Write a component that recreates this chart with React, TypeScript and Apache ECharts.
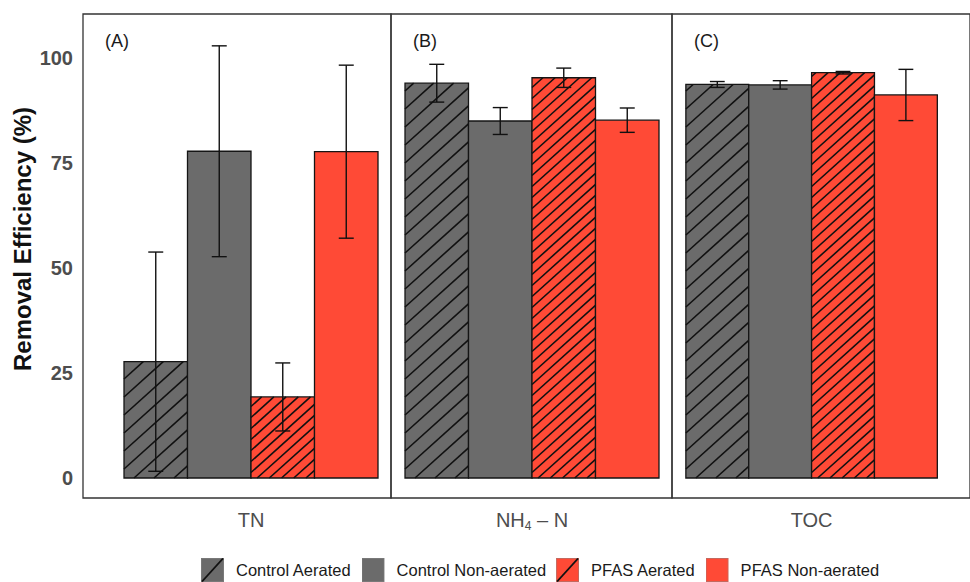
import React, { useEffect, useRef } from 'react';
import * as echarts from 'echarts';

// ---- data ----
const facets = ['TN', 'NH4-N', 'TOC'];
const facetLabels = ['TN', 'NH{sub|4} – N', 'TOC'];
const panelTags = ['(A)', '(B)', '(C)'];
const treatments = ['Control Aerated', 'Control Non-aerated', 'PFAS Aerated', 'PFAS Non-aerated'];
// mean removal efficiency (%) per facet [TN, NH4-N, TOC]
const controlAerated = [27.7, 94.0, 93.7];
const controlNonAerated = [77.8, 85.0, 93.6];
const pfasAerated = [19.3, 95.3, 96.5];
const pfasNonAerated = [77.7, 85.2, 91.2];
// error (±)
const controlAeratedErr = [26.1, 4.5, 0.7];
const controlNonAeratedErr = [25.1, 3.2, 1.0];
const pfasAeratedErr = [8.1, 2.3, 0.3];
const pfasNonAeratedErr = [20.6, 2.9, 6.1];
const yTicks = [0, 25, 50, 75, 100];

const means = [controlAerated, controlNonAerated, pfasAerated, pfasNonAerated];
const errs = [controlAeratedErr, controlNonAeratedErr, pfasAeratedErr, pfasNonAeratedErr];

// ---- styles ----
const GRAY = '#6b6b6b';
const RED = '#ff4a36';
const fills = [GRAY, GRAY, RED, RED];
const hatched = [true, false, true, false];
const hatchSpacing = [18, 0, 11, 0];
const FONT = '"Liberation Sans", Arial, Helvetica, sans-serif';

const panels = [
  { left: 83, width: 308, xMin: -0.1457, xMax: 4.7047 },
  { left: 391, width: 281, xMin: 0.2795, xMax: 4.7047 },
  { left: 672, width: 300, xMin: 0.2795, xMax: 5.0197 },
];

const keyIcon = (fill: string, hatch: boolean) =>
  'image://data:image/svg+xml;utf8,' +
  encodeURIComponent(
    `<svg xmlns="http://www.w3.org/2000/svg" width="23" height="24" viewBox="0 0 23 24">` +
      `<rect x="0" y="0" width="23" height="24" fill="${fill}"/>` +
      `<rect x="0.5" y="0.5" width="22" height="23" fill="none" stroke="#888" stroke-opacity="0.5" stroke-width="1"/>` +
      (hatch ? `<line x1="1" y1="23.5" x2="22" y2="0.5" stroke="#111" stroke-width="1.8"/>` : '') +
      `</svg>`
  );

function makeRender(t: number) {
  return (params: any, api: any) => {
    const xi = api.value(0);
    const v = api.value(1);
    const e = api.value(2);
    const pTop = api.coord([xi - 0.5, v]);
    const pBot = api.coord([xi + 0.5, 0]);
    const x0 = pTop[0];
    const y0 = pTop[1];
    const x1 = pBot[0];
    const y1 = pBot[1];
    const children: any[] = [];
    children.push({
      type: 'rect',
      shape: { x: x0, y: y0, width: x1 - x0, height: y1 - y0 },
      style: { fill: fills[t], stroke: 'none' },
    });
    if (hatched[t]) {
      const k = Math.tan((42 * Math.PI) / 180);
      const s = hatchSpacing[t];
      const anchor = y1 + k * x0 + s * 0.5;
      const cmin = y0 + k * x0;
      const cmax = y1 + k * x1;
      const nStart = Math.ceil((cmin - anchor) / s);
      const nEnd = Math.floor((cmax - anchor) / s);
      for (let n = nStart; n <= nEnd; n++) {
        const c = anchor + n * s;
        const xa = Math.max(x0, (c - y1) / k);
        const xb = Math.min(x1, (c - y0) / k);
        if (xb > xa + 0.3) {
          children.push({
            type: 'line',
            shape: { x1: xa, y1: c - k * xa, x2: xb, y2: c - k * xb },
            style: { stroke: '#111', lineWidth: 1.6 },
          });
        }
      }
    }
    children.push({
      type: 'rect',
      shape: { x: x0, y: y0, width: x1 - x0, height: y1 - y0 },
      style: { fill: 'none', stroke: '#151515', lineWidth: 1.3 },
    });
    const et = api.coord([xi, v + e]);
    const eb = api.coord([xi, v - e]);
    const half = api.size([0.118, 0])[0];
    const es = { stroke: '#111', lineWidth: 1.4 };
    children.push({ type: 'line', shape: { x1: et[0], y1: et[1], x2: eb[0], y2: eb[1] }, style: es });
    children.push({ type: 'line', shape: { x1: et[0] - half, y1: et[1], x2: et[0] + half, y2: et[1] }, style: es });
    children.push({ type: 'line', shape: { x1: eb[0] - half, y1: eb[1], x2: eb[0] + half, y2: eb[1] }, style: es });
    return { type: 'group', children };
  };
}

export default function App() {
  const ref = useRef<HTMLDivElement>(null);
  useEffect(() => {
    if (!ref.current) return;
    const chart = echarts.init(ref.current, undefined, { renderer: 'svg' });
    const series: any[] = [];
    panels.forEach((_, p) => {
      treatments.forEach((name, t) => {
        series.push({
          type: 'custom',
          name,
          xAxisIndex: p,
          yAxisIndex: p,
          encode: { x: 0, y: 1 },
          data: [[t + 1, means[t][p], errs[t][p]]],
          renderItem: makeRender(t),
        });
      });
    });
    const option: any = {
      animation: false,
      backgroundColor: '#ffffff',
      textStyle: { fontFamily: FONT },
      grid: panels.map((pp) => ({
        left: pp.left,
        top: 14,
        width: pp.width,
        height: 484,
        show: true,
        borderColor: '#333333',
        borderWidth: 1.3,
        backgroundColor: 'transparent',
      })),
      xAxis: panels.map((pp, p) => ({
        type: 'value',
        gridIndex: p,
        min: pp.xMin,
        max: pp.xMax,
        axisLine: { show: false },
        axisTick: { show: false },
        splitLine: { show: false },
        axisLabel: {
          customValues: [2.5],
          formatter: () => facetLabels[p],
          color: '#4d4d4d',
          fontSize: 20,
          fontFamily: FONT,
          margin: 10,
          lineHeight: 24,
          rich: {
            sub: { fontSize: 12, lineHeight: 12, verticalAlign: 'bottom', color: '#4d4d4d', fontFamily: FONT },
          },
        },
      })),
      yAxis: panels.map((_, p) => ({
        type: 'value',
        gridIndex: p,
        min: -4.76,
        max: 110.48,
        axisLine: { show: false },
        axisTick: { show: false },
        splitLine: { show: false },
        axisLabel: {
          show: p === 0,
          customValues: yTicks,
          color: '#4d4d4d',
          fontSize: 20,
          fontWeight: 'bold',
          fontFamily: FONT,
          margin: 10,
        },
      })),
      legend: {
        left: 201,
        top: 558,
        padding: 0,
        itemWidth: 23,
        itemHeight: 24,
        itemGap: 10,
        selectedMode: false,
        textStyle: { fontSize: 16.5, color: '#1a1a1a', fontFamily: FONT, padding: [0, 0, 0, 7] },
        data: treatments.map((name, t) => ({ name, icon: keyIcon(fills[t], hatched[t]) })),
      },
      graphic: [
        ...panels.map((pp, p) => ({
          type: 'text',
          x: pp.left + 22,
          y: 41,
          style: {
            text: panelTags[p],
            fill: '#1a1a1a',
            font: `18px ${FONT}`,
            fontSize: 18,
            fontFamily: FONT,
            textAlign: 'left',
            align: 'left',
            textVerticalAlign: 'middle',
            verticalAlign: 'middle',
          },
        })),
        {
          type: 'text',
          x: 22,
          y: 239,
          rotation: Math.PI / 2,
          style: {
            text: 'Removal Efficiency (%)',
            fill: '#111111',
            font: `bold 24px ${FONT}`,
            fontSize: 24,
            fontWeight: 'bold',
            fontFamily: FONT,
            textAlign: 'center',
            align: 'center',
            textVerticalAlign: 'middle',
            verticalAlign: 'middle',
          },
        },
      ],
      series,
    };
    chart.setOption(option);
    return () => chart.dispose();
  }, []);
  return <div ref={ref} style={{ position: 'absolute', left: 0, top: 0, width: 970, height: 582 }} />;
}
